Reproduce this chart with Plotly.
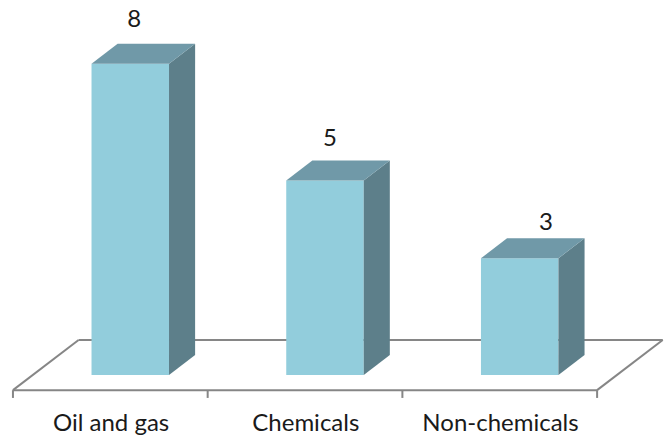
import plotly.graph_objects as go

categories = ["Oil and gas", "Chemicals", "Non-chemicals"]
values = [8, 5, 3]

# Oblique projection used for the pseudo-3D look, in axis units
BAR_WIDTH = 0.398
DEPTH_X = 0.134
DEPTH_Y = 0.514
FLOOR_DROP = 0.39      # front floor edge below the bars' base
FLOOR_SHIFT = 0.1025   # front floor edge left of the bars' front
TICK_LEN = 0.2

# Nudges for the value labels above each block
label_dx = [0.02, 0.025, 0.135]
label_dy = [1.10, 1.05, 0.88]

FRONT = "#92CDDC"
TOP = "#7099A8"
SIDE = "#5D7F8A"
GRID = "#868686"
FONT = "Lato"

fig = go.Figure()

# Front faces
fig.add_bar(
    x=list(range(len(values))), y=values, width=BAR_WIDTH,
    marker=dict(color=FRONT, line=dict(width=0)),
    hoverinfo="skip", showlegend=False,
)

# Side and top faces, derived from each value
for i, v in enumerate(values):
    l, r = i - BAR_WIDTH / 2, i + BAR_WIDTH / 2
    fig.add_scatter(
        x=[r, r + DEPTH_X, r + DEPTH_X, r, r],
        y=[0, DEPTH_Y, v + DEPTH_Y, v, 0],
        fill="toself", fillcolor=SIDE, mode="none",
        hoverinfo="skip", showlegend=False,
    )
    fig.add_scatter(
        x=[l, r, r + DEPTH_X, l + DEPTH_X, l],
        y=[v, v, v + DEPTH_Y, v + DEPTH_Y, v],
        fill="toself", fillcolor=TOP, mode="none",
        hoverinfo="skip", showlegend=False,
    )

# Value labels
fig.add_scatter(
    x=[i + dx for i, dx in enumerate(label_dx)],
    y=[v + dy for v, dy in zip(values, label_dy)],
    text=[str(v) for v in values],
    mode="text", textposition="middle center",
    textfont=dict(family=FONT, size=24, color="#1a1a1a"),
    hoverinfo="skip", showlegend=False,
)

# Category labels below the floor
fig.add_scatter(
    x=[i - FLOOR_SHIFT + 0.004 for i in range(len(categories))],
    y=[-1.28] * len(categories),
    text=categories,
    mode="text", textposition="middle center",
    textfont=dict(family=FONT, size=24, color="#1a1a1a"),
    hoverinfo="skip", showlegend=False,
)

# Floor outline and category ticks sit beneath the blocks
n = len(categories)
x_front_l = -0.5 - FLOOR_SHIFT
x_front_r = n - 0.5 - FLOOR_SHIFT
y_front = -FLOOR_DROP
x_back_l = x_front_l + 0.337
x_back_r = x_front_r + 0.337
y_back = 0.9
line = dict(color=GRID, width=2)


def seg(x0, y0, x1, y1):
    return dict(type="line", xref="x", yref="y", x0=x0, y0=y0, x1=x1, y1=y1,
                line=line, layer="below")


shapes = [
    seg(x_front_l, y_front, x_front_r, y_front),
    seg(x_front_l, y_front, x_back_l, y_back),
    seg(x_front_r, y_front, x_back_r, y_back),
    seg(x_back_l, y_back, x_back_r, y_back),
]
for k in range(n + 1):
    xt = x_front_l + k
    shapes.append(seg(xt, y_front, xt, y_front - TICK_LEN))

fig.update_layout(
    width=664, height=438,
    margin=dict(l=0, r=0, t=0, b=0),
    paper_bgcolor="white", plot_bgcolor="white",
    shapes=shapes,
    showlegend=False,
    xaxis=dict(visible=False, range=[-0.669, 2.741]),
    yaxis=dict(visible=False, range=[-1.62, 9.64]),
)

fig.write_html("out.html")
